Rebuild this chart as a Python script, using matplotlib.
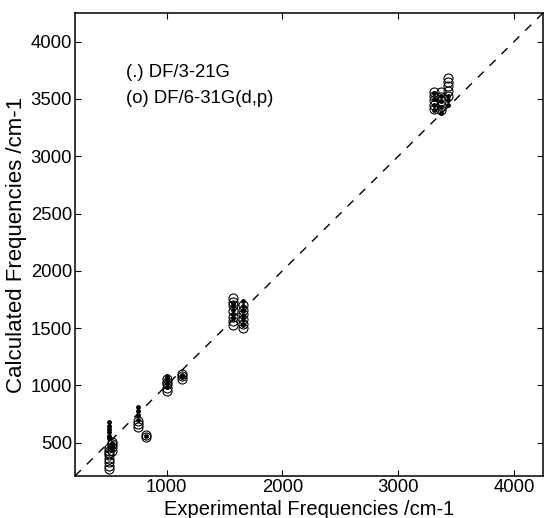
import matplotlib.pyplot as plt

plt.rcParams['font.family'] = ['Liberation Sans', 'DejaVu Sans']

# DF/3-21G (dots): experimental vs calculated
exp_321 = [500, 500, 500, 500, 500, 500, 530, 530, 530, 530,
           750, 750, 750, 750, 820,
           1000, 1000, 1000, 1000, 1130, 1130,
           1570, 1570, 1570, 1570, 1570, 1660, 1660, 1660, 1660, 1660, 1660,
           3310, 3310, 3310, 3310, 3370, 3370, 3370, 3370, 3430, 3430, 3430]
calc_321 = [680, 650, 620, 590, 560, 540, 500, 480, 460, 440,
            700, 740, 780, 810, 560,
            990, 1020, 1050, 1080, 1075, 1095,
            1590, 1620, 1660, 1690, 1720, 1530, 1570, 1610, 1650, 1690, 1740,
            3400, 3450, 3500, 3550, 3380, 3430, 3480, 3530, 3450, 3490, 3530]

# DF/6-31G(d,p) (circles)
exp_631 = [500, 500, 500, 500, 500, 500, 500, 500, 530, 530, 530, 530,
           750, 750, 750, 820, 820,
           1000, 1000, 1000, 1000, 1000, 1130, 1130, 1130,
           1570, 1570, 1570, 1570, 1570, 1570, 1570,
           1660, 1660, 1660, 1660, 1660, 1660,
           3310, 3310, 3310, 3310, 3310, 3370, 3370, 3370, 3370, 3370,
           3430, 3430, 3430, 3430, 3430]
calc_631 = [270, 300, 330, 360, 390, 410, 430, 450, 430, 460, 490, 510,
            640, 660, 690, 550, 570,
            950, 980, 1010, 1030, 1060, 1060, 1080, 1100,
            1530, 1560, 1600, 1650, 1700, 1730, 1760,
            1500, 1540, 1580, 1620, 1660, 1700,
            3410, 3450, 3490, 3530, 3560, 3400, 3440, 3480, 3520, 3560,
            3530, 3570, 3610, 3650, 3680]

lims = [210, 4250]
xticks = [1000, 2000, 3000, 4000]
yticks = [500, 1000, 1500, 2000, 2500, 3000, 3500, 4000]

fig = plt.figure(figsize=(5.45, 5.18), dpi=100)
ax = fig.add_axes([0.1376, 0.0811, 0.8587, 0.8938])

ax.plot(exp_631, calc_631, 'o', mfc='none', mec='black', ms=6.5, mew=0.8)
ax.plot(exp_321, calc_321, '.', color='black', ms=5)
ax.plot(lims, lims, '--', color='black', lw=1, dashes=(6, 6))

ax.text(650, 3735, '(.) DF/3-21G', fontsize=13.3, va='center')
ax.text(650, 3500, '(o) DF/6-31G(d,p)', fontsize=13.3, va='center')

ax.set_xlim(lims)
ax.set_ylim(lims)
ax.set_xticks(xticks)
ax.set_yticks(yticks)
ax.tick_params(direction='in', top=True, right=True, labelsize=13.3, length=4, pad=2)
ax.set_xlabel('Experimental Frequencies /cm-1', fontsize=14.5, labelpad=3)
ax.set_ylabel('Calculated Frequencies /cm-1', fontsize=16, labelpad=3)
for s in ax.spines.values():
    s.set_linewidth(1.1)

fig.savefig('out.png', dpi=100)
